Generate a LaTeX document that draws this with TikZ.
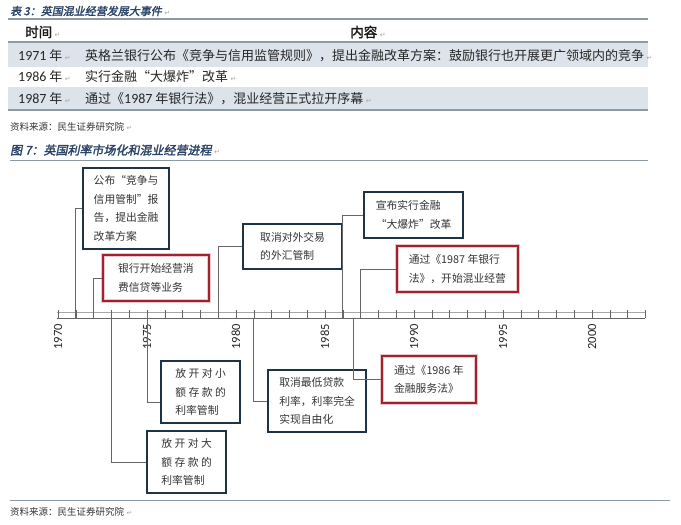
\documentclass[tikz,border=0pt]{standalone}
\usepackage{fontspec}
\setmainfont{Noto Sans CJK SC}
\newfontfamily\numfont{Carlito}
\newfontfamily\capfont[FakeSlant=0.2,FakeBold=2]{Noto Sans CJK SC}
\newfontfamily\hdfont[FakeBold=2]{Noto Sans CJK SC}
\newfontfamily\symfont{DejaVu Sans}
\usetikzlibrary{positioning}

\definecolor{navy}{HTML}{1E3446}
\definecolor{boxred}{HTML}{A1222E}
\definecolor{rowfill}{HTML}{DCE3EA}
\definecolor{rulegray}{HTML}{8C9AA5}
\definecolor{capblue}{HTML}{2A4468}
\definecolor{txtgray}{HTML}{333333}

\newcommand{\parmark}{{\hspace{2.5pt}\symfont\color{gray!70}\fontsize{7}{7}\selectfont ↵}}
\newcommand{\yx}[1]{58+(#1-1970)*17.8}

\begin{document}
\begin{tikzpicture}[x=1pt, y=-1pt,
  evt/.style={draw=navy, line width=2.2pt, align=left, text=txtgray,
              font=\fontsize{10.8}{18.5}\selectfont, inner sep=0pt, anchor=north west},
  evtred/.style={evt, draw=boxred, line width=1.8pt,
                 preaction={draw=boxred!25, line width=4pt}},
  conn/.style={draw=black!60, line width=0.8pt},
  captxt/.style={anchor=west, inner sep=0pt, text=capblue},
  tbl/.style={anchor=west, inner sep=0pt, text=black!85, font=\fontsize{13}{13}\selectfont},
  hd/.style={inner sep=0pt, text=black!90, font=\hdfont\fontsize{13.5}{13.5}\selectfont},
  src/.style={anchor=west, inner sep=0pt, text=black!80, font=\fontsize{9.5}{9.5}\selectfont},
  yrlab/.style={rotate=90, anchor=east, inner sep=0pt, text=black!85,
                font=\numfont\fontsize{12.5}{12.5}\selectfont}
]
\useasboundingbox (0,0) rectangle (681,525);

% table 3
\node[captxt, font=\capfont\fontsize{11}{11}\selectfont] (tcap) at (10,11) {表 3：英国混业经营发展大事件\parmark};
\fill[rowfill] (8,42) rectangle (648,67);
\fill[rowfill] (8,87) rectangle (648,110);
\draw[rulegray, line width=1.2pt] (8,19) -- (648,19);
\draw[rulegray, line width=1.6pt] (8,42) -- (648,42);
\draw[rulegray, line width=1.2pt] (8,110) -- (648,110);

\node[hd, anchor=west] (hyear) at (25,32) {时间\parmark};
\node[hd] (htext) at (368,32) {内容\parmark};

\node[tbl] (y71) at (18,56) {{\numfont\fontsize{14}{14}\selectfont 1971} 年\parmark};
\node[tbl] (c71) at (85,56) {英格兰银行公布《竞争与信用监管规则》，提出金融改革方案：鼓励银行也开展更广领域内的竞争\parmark};
\node[tbl] (y86) at (18,77) {{\numfont\fontsize{14}{14}\selectfont 1986} 年\parmark};
\node[tbl] (c86) at (85,77) {实行金融“大爆炸”改革\parmark};
\node[tbl] (y87) at (18,99) {{\numfont\fontsize{14}{14}\selectfont 1987} 年\parmark};
\node[tbl] (c87) at (85,99) {通过《{\numfont\fontsize{14}{14}\selectfont 1987} 年银行法》，混业经营正式拉开序幕\parmark};

\node[src] (src1) at (10,127) {资料来源：民生证券研究院\parmark};

% figure 7
\node[captxt, font=\capfont\fontsize{12}{12}\selectfont] (fcap) at (10,150) {图 7：英国利率市场化和混业经营进程\parmark};
\draw[rulegray, line width=1pt] (10,160) -- (648,160);

% axis
\draw[black!35, line width=0.6pt] (57,312) -- (645,312);
\draw[black!60, line width=0.8pt] (57,318) -- (645,318);
\foreach \y in {1970,...,2003}
  \draw[black!60, line width=0.6pt] ({\yx{\y}},310) -- ({\yx{\y}},318);
\foreach \y in {1970,1975,...,2000}
  \node[yrlab] (lab\y) at ({\yx{\y}},324) {\y};

\foreach \y in {1971,1972,1973,1975,1979,1981,1986,1987}
  \coordinate (t\y) at ({\yx{\y}},318);
\coordinate (t86b) at ({\yx{1986.6}},318);

% events above the axis
\node[evt, minimum width=86pt, minimum height=81pt] (ev71) at (82,167)
  {公布“竞争与\\信用管制”报\\告，提出金融\\改革方案};
\node[evtred, minimum width=106pt, minimum height=46pt] (ev72) at (102,254)
  {银行开始经营消\\费信贷等业务};
\node[evt, minimum width=99pt, minimum height=45pt] (ev79) at (242,223)
  {取消对外交易\\的外汇管制};
\node[evt, minimum width=99pt, minimum height=46pt] (ev86) at (363,191)
  {宣布实行金融\\“大爆炸”改革};
\node[evtred, minimum width=121pt, minimum height=46pt] (ev87) at (396,245)
  {通过《1987 年银行\\法》，开始混业经营};

% events below the axis
\node[evt, minimum width=79pt, minimum height=62pt] (ev75) at (160,360)
  {放\ 开\ 对\ 小\\额\ 存\ 款\ 的\\利率管制};
\node[evt, minimum width=79pt, minimum height=62pt] (ev73) at (146,430)
  {放\ 开\ 对\ 大\\额\ 存\ 款\ 的\\利率管制};
\node[evt, minimum width=98pt, minimum height=62pt] (ev81) at (267,369)
  {取消最低贷款\\利率，利率完全\\实现自由化};
\node[evtred, minimum width=94pt, minimum height=47pt] (ev86b) at (381,355)
  {通过《1986 年\\金融服务法》};

\draw[conn] (t1971) |- (ev71.west);
\draw[conn] (t1972) |- (ev72.west);
\draw[conn] (t1979) |- (ev79.west);
\draw[conn] (t1986) |- (ev86.west);
\draw[conn] (t1987) |- (ev87.west);
\draw[conn] (t1973) |- (ev73.west);
\draw[conn] (t1975) |- ([yshift=-10.5pt]ev75.west);
\draw[conn] (t1981) |- (ev81.west);
\draw[conn] (t86b) |- (ev86b.west);

% source
\draw[rulegray, line width=1pt] (10,500) -- (670,500);
\node[src] (src2) at (10,512) {资料来源：民生证券研究院\parmark};
\end{tikzpicture}
\end{document}
